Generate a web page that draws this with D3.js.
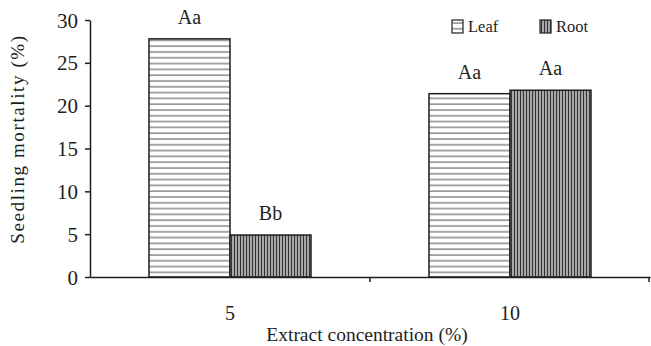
<!DOCTYPE html>
<html>
<head>
<meta charset="utf-8">
<script src="https://cdn.jsdelivr.net/npm/d3@7"></script>
<style>
  body { margin: 0; background: #fff; }
  svg { display: block; font-family: "Liberation Serif", "Times New Roman", serif; }
</style>
</head>
<body>
<svg id="chart" width="651" height="346"></svg>
<script>
// data
const concentrations = ['5', '10'];
const seriesNames = ['Leaf', 'Root'];
const leafValues = [27.8, 21.4];
const rootValues = [4.9, 21.8];
const leafLabels = ['Aa', 'Aa'];
const rootLabels = ['Bb', 'Aa'];
const yTicks = [0, 5, 10, 15, 20, 25, 30];

const svg = d3.select('#chart');
const margin = { left: 90, right: 1, top: 20, bottom: 69 };
const width = 651 - margin.left - margin.right;
const height = 346 - margin.top - margin.bottom;
const ink = '#1e1e1e';

// fill patterns: horizontal lines for leaf, vertical lines for root
const defs = svg.append('defs');
const hp = defs.append('pattern')
  .attr('id', 'pat-leaf').attr('patternUnits', 'userSpaceOnUse')
  .attr('width', 10).attr('height', 5.8);
hp.append('rect').attr('width', 10).attr('height', 5.8).attr('fill', '#fff');
hp.append('line').attr('x1', 0).attr('x2', 10).attr('y1', 3).attr('y2', 3)
  .attr('stroke', '#777').attr('stroke-width', 1.3);

const vp = defs.append('pattern')
  .attr('id', 'pat-root').attr('patternUnits', 'userSpaceOnUse')
  .attr('width', 3).attr('height', 10);
vp.append('rect').attr('width', 3).attr('height', 10).attr('fill', '#bbb');
vp.append('line').attr('x1', 1.5).attr('x2', 1.5).attr('y1', 0).attr('y2', 10)
  .attr('stroke', '#333').attr('stroke-width', 1.3);

const g = svg.append('g').attr('transform', `translate(${margin.left},${margin.top})`);

const x = d3.scaleBand().domain(concentrations).range([0, width]);
const inner = d3.scaleBand().domain(seriesNames).range([0, 162]);
const y = d3.scaleLinear().domain([0, 30]).range([height, 0]);

const rows = concentrations.map((c, i) => ({
  c,
  bars: [
    { s: 'Leaf', v: leafValues[i], label: leafLabels[i] },
    { s: 'Root', v: rootValues[i], label: rootLabels[i] }
  ]
}));

const groups = g.selectAll('.grp').data(rows).enter().append('g')
  .attr('transform', d => `translate(${x(d.c) + x.bandwidth() / 2 - 81},0)`);

groups.selectAll('rect').data(d => d.bars).enter().append('rect')
  .attr('x', d => inner(d.s))
  .attr('y', d => y(d.v))
  .attr('width', inner.bandwidth())
  .attr('height', d => height - y(d.v))
  .attr('fill', d => d.s === 'Leaf' ? 'url(#pat-leaf)' : 'url(#pat-root)')
  .attr('stroke', ink)
  .attr('stroke-width', 1.5);

groups.selectAll('.lbl').data(d => d.bars).enter().append('text')
  .attr('x', d => inner(d.s) + inner.bandwidth() / 2)
  .attr('y', d => y(d.v) - 15)
  .attr('text-anchor', 'middle')
  .attr('font-size', 20)
  .attr('fill', ink)
  .text(d => d.label);

// axes
const yAxis = g.append('g').call(d3.axisLeft(y).tickValues(yTicks).tickSize(5).tickSizeOuter(0));
yAxis.attr('font-family', null);
yAxis.selectAll('text').attr('font-size', 21).attr('fill', ink).attr('x', -12).attr('dy', '0.34em');
yAxis.selectAll('line, path').attr('stroke', ink).attr('stroke-width', 1.5);

const xAxis = g.append('g').attr('transform', `translate(0,${height})`)
  .call(d3.axisBottom(x).tickSize(0));
xAxis.attr('font-family', null);
xAxis.selectAll('text').attr('font-size', 20).attr('fill', ink).attr('y', 0).attr('dy', 43);
xAxis.select('.domain').attr('stroke', ink).attr('stroke-width', 1.5);
// separators between categories
g.selectAll('.sep').data(x.domain().slice(1).concat(['end'])).enter().append('line')
  .attr('x1', d => d === 'end' ? width - 1 : x(d)).attr('x2', d => d === 'end' ? width - 1 : x(d))
  .attr('y1', height).attr('y2', height + 5)
  .attr('stroke', ink).attr('stroke-width', 1.5);

// axis titles
svg.append('text')
  .attr('x', 367).attr('y', 341)
  .attr('text-anchor', 'middle').attr('font-size', 19.5).attr('fill', ink)
  .text('Extract concentration (%)');

svg.append('text')
  .attr('transform', `translate(24,139) rotate(-90)`)
  .attr('text-anchor', 'middle').attr('font-size', 19).attr('fill', ink)
  .attr('letter-spacing', 1.6)
  .text('Seedling mortality (%)');

// legend
const legend = svg.append('g').attr('transform', 'translate(452,20)');
const li = legend.selectAll('g').data(seriesNames).enter().append('g')
  .attr('transform', (d, i) => `translate(${i * 88},0)`);
li.append('rect').attr('width', 11).attr('height', 13)
  .attr('fill', d => d === 'Leaf' ? 'url(#pat-leaf)' : 'url(#pat-root)')
  .attr('stroke', ink).attr('stroke-width', 1.2);
li.append('text').attr('x', 16).attr('y', 12).attr('font-size', 16.5).attr('fill', ink)
  .text(d => d);
</script>
</body>
</html>
